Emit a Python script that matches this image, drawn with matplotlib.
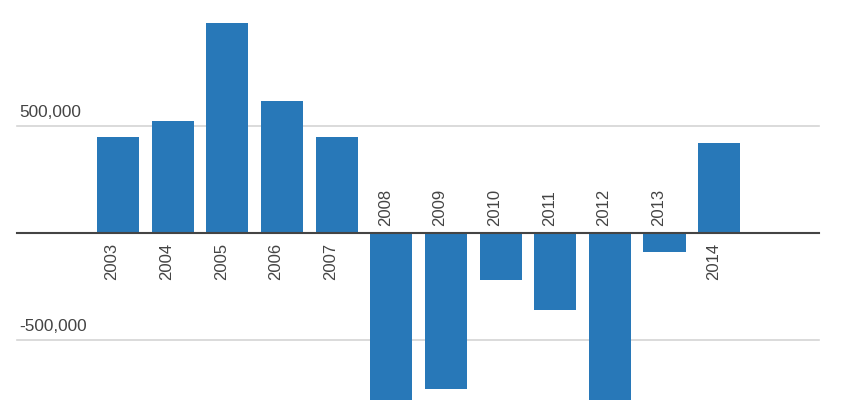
import numpy as np
import matplotlib
matplotlib.use('Agg')
from matplotlib import pyplot as plt

# Yearly values (2008 and 2012 run past the bottom edge)
years = ['2003', '2004', '2005', '2006', '2007', '2008',
         '2009', '2010', '2011', '2012', '2013', '2014']
values = [449000, 522000, 981000, 615000, 449000, -950000,
          -732000, -221000, -360000, -1000000, -89000, 421000]
grid_values = [500000, -500000]
grid_labels = ['500,000', '-500,000']

plt.rcParams['font.family'] = ['Liberation Sans', 'DejaVu Sans']

fig = plt.figure(figsize=(8.64, 4.0), dpi=100)
ax = fig.add_axes([0, 0, 1, 1])
ax.set_xlim(-2.16, 13.65)
ax.set_ylim(-782000, 1087000)
ax.axis('off')

x = np.arange(len(years))

# Gridlines and their labels sit inside the plot area
for gv, gl in zip(grid_values, grid_labels):
    ax.plot([-1.85, 12.83], [gv, gv], color='#d4d4d4', lw=1.2, zorder=1)
    ax.annotate(gl, xy=(-1.80, gv), xytext=(0, 6), textcoords='offset pixels',
                ha='left', va='bottom', fontsize=12.4, color='#444444')

ax.bar(x, values, width=0.77, color='#2878b8', zorder=2)
ax.plot([-1.85, 12.83], [0, 0], color='#444444', lw=1.5, zorder=3)

# Year labels: below the axis for positive bars, above it for negative ones
for xi, yr, v in zip(x, years, values):
    if v >= 0:
        ax.annotate(yr, xy=(xi, 0), xytext=(-6, -10), textcoords='offset pixels',
                    rotation=90, ha='center', va='top', fontsize=12, color='#444444')
    else:
        ax.annotate(yr, xy=(xi, 0), xytext=(-6, 7), textcoords='offset pixels',
                    rotation=90, ha='center', va='bottom', fontsize=12, color='#444444')

fig.savefig('out.png', dpi=100)
